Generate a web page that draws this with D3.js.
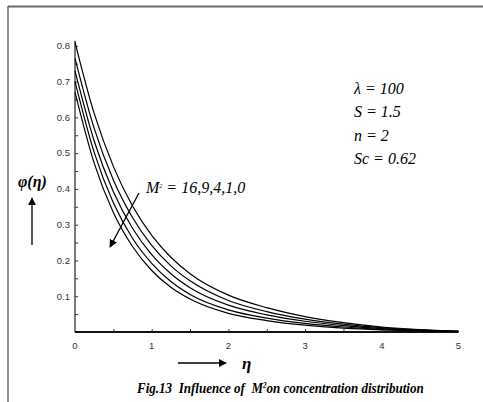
<!DOCTYPE html>
<html><head><meta charset="utf-8">
<script src="https://cdn.jsdelivr.net/npm/d3@7"></script>
<style>body{margin:0;background:#fff}svg{display:block}text{white-space:pre}</style>
</head><body>
<script>
// ---- data ----
const eta = [0, 0.25, 0.5, 0.75, 1, 1.25, 1.5, 2, 2.5, 3, 3.5, 4, 4.5, 5];
const M2_16 = [0.810, 0.611, 0.463, 0.352, 0.270, 0.209, 0.163, 0.103, 0.068, 0.043, 0.026, 0.014, 0.0065, 0.002];
const M2_9  = [0.765, 0.569, 0.425, 0.320, 0.242, 0.185, 0.143, 0.088, 0.057, 0.036, 0.022, 0.012, 0.0055, 0.0018];
const M2_4  = [0.730, 0.534, 0.392, 0.290, 0.216, 0.163, 0.124, 0.075, 0.048, 0.030, 0.018, 0.0096, 0.0045, 0.0016];
const M2_1  = [0.700, 0.502, 0.361, 0.262, 0.192, 0.141, 0.105, 0.062, 0.039, 0.024, 0.014, 0.0076, 0.0037, 0.0015];
const M2_0  = [0.670, 0.472, 0.334, 0.239, 0.172, 0.125, 0.092, 0.052, 0.032, 0.019, 0.011, 0.0062, 0.0031, 0.0014];
const seriesNames = ["16", "9", "4", "1", "0"];
const seriesValues = [M2_16, M2_9, M2_4, M2_1, M2_0];
const xTickLabels = [0, 1, 2, 3, 4, 5];
const yTickLabels = [0.1, 0.2, 0.3, 0.4, 0.5, 0.6, 0.7, 0.8];
const params = ["λ = 100", "S = 1.5", "n = 2", "Sc = 0.62"];

const W = 483, H = 402;
const svg = d3.select("body").append("svg").attr("width", W).attr("height", H);

// frame
svg.append("line").attr("x1", 8).attr("x2", W).attr("y1", 6.5).attr("y2", 6.5)
  .attr("stroke", "#6a6a6a").attr("stroke-width", 2);
svg.append("line").attr("x1", 8).attr("x2", 8).attr("y1", 6).attr("y2", H)
  .attr("stroke", "#6a6a6a").attr("stroke-width", 1.5);

const x = d3.scaleLinear().domain([0, 5]).range([75, 458.5]);
const y = d3.scaleLinear().domain([0, 0.8]).range([332, 45.8]);

// axes lines
svg.append("line").attr("x1", x(0)).attr("x2", x(0)).attr("y1", y(0.814)).attr("y2", y(0))
  .attr("stroke", "#222").attr("stroke-width", 1.2);
svg.append("line").attr("x1", x(0)).attr("x2", x(5)).attr("y1", y(0)).attr("y2", y(0))
  .attr("stroke", "#111").attr("stroke-width", 2);

// y ticks (every 0.05) and labels
const yAxis = d3.axisLeft(y).tickValues(d3.range(1, 17).map(i => i * 0.05))
  .tickSize(-3).tickFormat("");
svg.append("g").attr("transform", `translate(${x(0)},0)`).call(yAxis)
  .call(g => g.select(".domain").remove())
  .call(g => g.selectAll("line").attr("stroke", "#333"));
svg.append("g").selectAll("text").data(yTickLabels).join("text")
  .attr("x", 70).attr("y", d => y(d) + 3.3).attr("text-anchor", "end")
  .attr("font-family", "Liberation Sans, Arial, sans-serif").attr("font-size", 9.5).attr("fill", "#333")
  .text(d => d.toFixed(1));

// x ticks (every 0.5) and labels
const xAxis = d3.axisBottom(x).tickValues(d3.range(1, 10).map(i => i * 0.5)).tickSize(-3).tickFormat("");
svg.append("g").attr("transform", `translate(0,${y(0)})`).call(xAxis)
  .call(g => g.select(".domain").remove())
  .call(g => g.selectAll("line").attr("stroke", "#333"));
svg.append("g").selectAll("text").data(xTickLabels).join("text")
  .attr("x", d => x(d)).attr("y", 349).attr("text-anchor", "middle")
  .attr("font-family", "Liberation Sans, Arial, sans-serif").attr("font-size", 9.5).attr("fill", "#333")
  .text(d => d);

// curves
const line = d3.line().x((d, i) => x(eta[i])).y(d => y(d)).curve(d3.curveMonotoneX);
svg.append("g").selectAll("path").data(seriesValues).join("path")
  .attr("d", d => line(d)).attr("fill", "none").attr("stroke", "#000").attr("stroke-width", 1.2)
  .attr("data-name", (d, i) => "M2=" + seriesNames[i]);

// arrow marker
const defs = svg.append("defs");
defs.append("marker").attr("id", "ah").attr("viewBox", "0 0 10 10").attr("refX", 9).attr("refY", 5)
  .attr("markerWidth", 8).attr("markerHeight", 8).attr("markerUnits", "userSpaceOnUse").attr("orient", "auto")
  .append("path").attr("d", "M0,0 L10,5 L0,10 Z").attr("fill", "#000");

const serif = "Liberation Serif, Times New Roman, serif";

// y label + arrow
svg.append("text").attr("x", 18).attr("y", 187).attr("font-family", serif).attr("font-size", 16)
  .attr("font-style", "italic").attr("font-weight", "bold").text("φ(η)");
svg.append("line").attr("x1", 32).attr("y1", 245).attr("x2", 32).attr("y2", 198)
  .attr("stroke", "#000").attr("stroke-width", 1.3).attr("marker-end", "url(#ah)");

// x label + arrow
svg.append("line").attr("x1", 178).attr("y1", 363).attr("x2", 226).attr("y2", 363)
  .attr("stroke", "#000").attr("stroke-width", 1.3).attr("marker-end", "url(#ah)");
svg.append("text").attr("x", 242).attr("y", 369).attr("font-family", serif).attr("font-size", 17)
  .attr("font-style", "italic").attr("font-weight", "bold").text("η");

// parameters
svg.append("g").selectAll("text").data(params).join("text")
  .attr("x", 354).attr("y", (d, i) => 94 + i * 23.3)
  .attr("font-family", serif).attr("font-size", 16).attr("font-style", "italic").text(d => d);

// M^2 annotation
const mt = svg.append("text").attr("x", 146).attr("y", 193).attr("font-family", serif)
  .attr("font-size", 16).attr("font-style", "italic");
mt.append("tspan").text("M");
mt.append("tspan").attr("font-size", 6).attr("dy", -5).text("2");
mt.append("tspan").attr("dy", 5).text(" = " + seriesNames.join(","));
svg.append("line").attr("x1", 139).attr("y1", 193).attr("x2", 110).attr("y2", 247)
  .attr("stroke", "#000").attr("stroke-width", 1.3).attr("marker-end", "url(#ah)");

// caption (slightly condensed horizontally, as in the reference)
const cap = svg.append("text").attr("transform", "translate(137,393) scale(0.87,1)")
  .attr("font-family", serif)
  .attr("font-size", 15).attr("font-style", "italic").attr("font-weight", "bold");
cap.append("tspan").text("Fig.13  Influence of  M");
cap.append("tspan").attr("font-size", 8).attr("dy", -5).text("2");
cap.append("tspan").attr("dy", 5).text("on concentration distribution");
</script>
</body></html>
